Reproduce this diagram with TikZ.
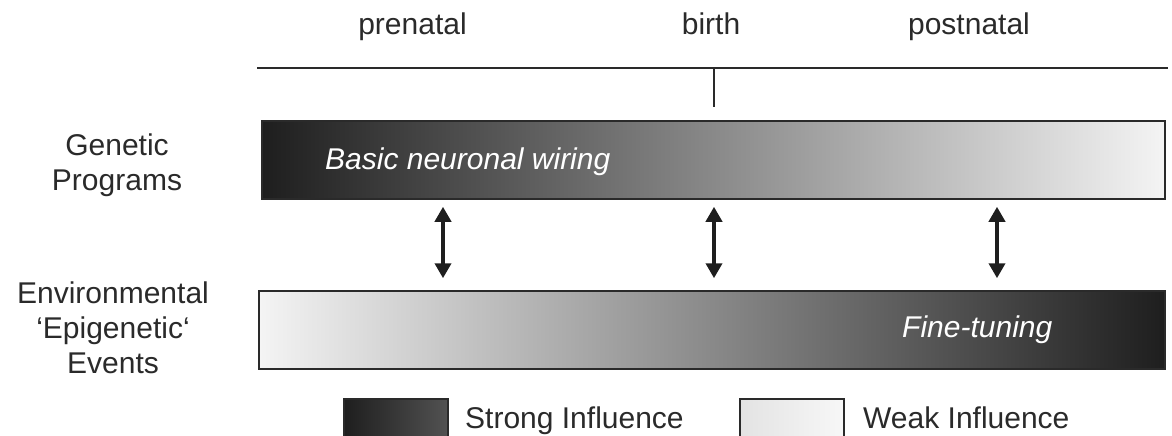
\documentclass[tikz,border=0pt]{standalone}
\usepackage{fontspec}
\setmainfont{Liberation Sans}
\usetikzlibrary{arrows.meta}
\definecolor{ink}{HTML}{2A2A2A}
\definecolor{darkend}{HTML}{1E1E1E}
\definecolor{lightend}{HTML}{F4F4F4}
\begin{document}
\begin{tikzpicture}[x=1pt,y=-1pt,
  lbl/.style={font=\fontsize{30}{35}\selectfont, text=ink, inner sep=0pt, align=center},
  inbar/.style={font=\fontsize{30}{35}\selectfont\itshape, text=white, inner sep=0pt},
  bar/.style={draw=ink, line width=1.5pt, inner sep=0pt, minimum height=78pt},
  swatch/.style={draw=ink, line width=1.5pt, inner sep=0pt, anchor=north west,
    minimum width=104pt, minimum height=50pt},
  rule/.style={draw=ink, line width=2pt},
  dblarrow/.style={draw=darkend, line width=4.5pt,
    {Triangle[width=16pt,length=15pt]}-{Triangle[width=16pt,length=15pt]}},
  ]
\useasboundingbox (0,0) rectangle (1172,436);
\clip (0,0) rectangle (1172,436);

% time axis
\node[lbl, anchor=base] (prenatal) at (412.5,35) {prenatal};
\node[lbl, anchor=base] (birth) at (711,35) {birth};
\node[lbl, anchor=base] (postnatal) at (969,35) {postnatal};
\coordinate (tl-l) at (257,68);
\coordinate (tl-r) at (1168,68);
\coordinate (tick-top) at (714,68);
\coordinate (tick-bot) at (714,107);
\draw[rule] (tl-l) -- (tl-r);
\draw[rule] (tick-top) -- (tick-bot);

% genetic programs bar
\node[bar, minimum width=903pt, left color=darkend, middle color=black!38, right color=lightend]
  (gen) at (713.5,160) {};
\node[inbar, anchor=west] (wiring) at (325,162) {Basic neuronal wiring};
\node[lbl] (genlbl) at (117,165) {Genetic\\Programs};

% environmental bar
\node[bar, minimum width=906pt, left color=lightend, middle color=black!36, right color=darkend]
  (env) at (712,330) {};
\node[inbar, anchor=west] (tuning) at (902,330) {Fine-tuning};
\node[lbl] (envlbl) at (113,328) {Environmental\\`Epigenetic`\\Events};

% interaction arrows
\coordinate (a1) at (443,0);
\coordinate (a2) at (714,0);
\coordinate (a3) at (997,0);
\foreach \a in {a1,a2,a3}
  \draw[dblarrow, shorten <=7pt, shorten >=12pt] (gen.south -| \a) -- (env.north -| \a);

% legend
\node[swatch, left color=darkend, right color=black!68] (strong) at (343,398) {};
\node[lbl, anchor=base west] (stronglbl) at (465,428) {Strong Influence};
\node[swatch, left color=black!11, right color=black!3] (weak) at (739,398) {};
\node[lbl, anchor=base west] (weaklbl) at (863,428) {Weak Influence};
\end{tikzpicture}
\end{document}
